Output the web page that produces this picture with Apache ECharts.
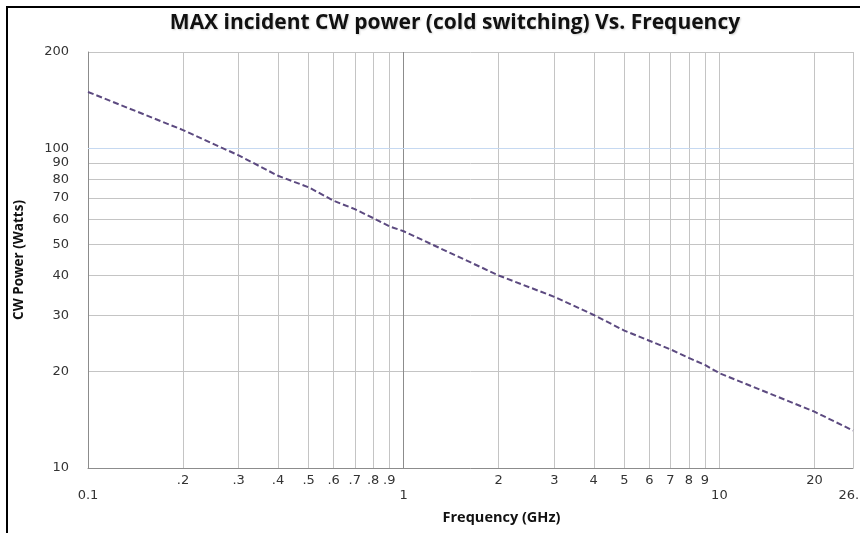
<!DOCTYPE html>
<html>
<head>
<meta charset="utf-8">
<script src="https://cdn.jsdelivr.net/npm/echarts@6/dist/echarts.min.js"></script>
<style>
  html, body { margin: 0; padding: 0; background: #fff; }
  #chart { position: absolute; left: 0; top: 0; width: 860px; height: 533px; }
  #frame { position: absolute; left: 6px; top: 6px; width: 860px; height: 533px;
           border-left: 2px solid #000; border-top: 2px solid #000; pointer-events: none; }
</style>
</head>
<body>
<div id="chart"></div>
<div id="frame"></div>
<script>
// values
const freqGHz = [0.1, 0.2, 0.3, 0.4, 0.5, 0.6, 0.7, 0.8, 0.9, 1, 2, 3, 4, 5, 6, 7, 8, 9, 10, 20, 26.5]
const cwPowerW = [150, 114, 95, 82, 75.5, 68.5, 64.5, 60.5, 57, 55, 40, 34.3, 30.1, 26.9, 25, 23.5, 22.1, 21, 19.8, 15, 13.1]

// grid / label positions on the two log axes
const xTicks = [0.1, 0.2, 0.3, 0.4, 0.5, 0.6, 0.7, 0.8, 0.9, 1, 2, 3, 4, 5, 6, 7, 8, 9, 10, 20, 26.5]
const xLowRow = [0.1, 1, 10, 26.5] // these labels sit one line lower
const yTicks = [10, 20, 30, 40, 50, 60, 70, 80, 90, 100, 200]

const chart = echarts.init(document.getElementById("chart"))

function fmtX(v) {
  v = Number(Number(v).toPrecision(6))
  let s = String(v)
  if (v < 1 && xLowRow.indexOf(v) < 0) s = s.replace(/^0/, "")
  return xLowRow.indexOf(v) >= 0 ? "\n" + s : s
}

chart.setOption({
  animation: false,
  textStyle: { fontFamily: "DejaVu Sans" },
  title: {
    text: "MAX incident CW power (cold switching) Vs. Frequency",
    left: 450,
    top: 8,
    textAlign: "center",
    textStyle: {
      fontFamily: "Open Sans",
      fontSize: 21,
      fontWeight: "bold",
      color: "#111",
      textShadowColor: "rgba(0,0,0,.18)",
      textShadowBlur: 2,
      textShadowOffsetX: 1,
      textShadowOffsetY: 1
    }
  },
  grid: { left: 88, right: 7, top: 52, bottom: 65, containLabel: false, outerBoundsMode: "none" },
  xAxis: {
    type: "log",
    logBase: 10,
    min: 0.1,
    max: 26.5,
    name: "Frequency (GHz)",
    nameLocation: "middle",
    nameGap: 42,
    nameTextStyle: {
      fontFamily: "Open Sans",
      fontWeight: "bold",
      fontSize: 14.5,
      color: "#111",
      padding: [0, 0, 0, 62]
    },
    axisLine: { show: true, lineStyle: { color: "#8c8c8c", width: 1 } },
    axisTick: { show: false, customValues: xTicks },
    axisLabel: {
      customValues: xTicks,
      formatter: fmtX,
      fontSize: 13,
      lineHeight: 15,
      margin: 5,
      color: "#333",
      showMinLabel: true,
      showMaxLabel: true,
      hideOverlap: false
    },
    splitLine: { show: true, lineStyle: { color: "#c4c4c4", width: 1 } }
  },
  yAxis: {
    type: "log",
    logBase: 10,
    min: 10,
    max: 200,
    name: "CW Power (Watts)",
    nameLocation: "middle",
    nameGap: 62,
    nameRotate: 90,
    nameTextStyle: {
      fontFamily: "Open Sans",
      fontWeight: "bold",
      fontSize: 13.5,
      color: "#111"
    },
    axisLine: { show: true, lineStyle: { color: "#8c8c8c", width: 1 } },
    axisTick: { show: false, customValues: yTicks },
    axisLabel: {
      customValues: yTicks,
      fontSize: 13,
      margin: 19,
      color: "#333",
      showMinLabel: true,
      showMaxLabel: true,
      hideOverlap: false
    },
    splitLine: { show: true, lineStyle: { color: "#c4c4c4", width: 1 } }
  },
  series: [
    {
      type: "line",
      data: freqGHz.map((f, i) => [f, cwPowerW[i]]),
      symbol: "none",
      lineStyle: { color: "#5c4a80", width: 2, type: [6, 3] },
      markLine: {
        silent: true,
        symbol: "none",
        label: { show: false },
        z: 1,
        data: [
          { xAxis: 1, lineStyle: { color: "#8c8c8c", type: "solid", width: 1 } },
          { yAxis: 100, lineStyle: { color: "#c6d9f1", type: "solid", width: 1 } }
        ]
      },
      z: 5
    }
  ]
})
</script>
</body>
</html>
